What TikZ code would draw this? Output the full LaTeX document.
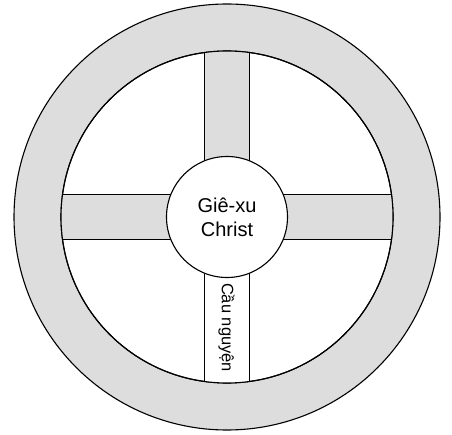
\documentclass[tikz,border=0pt]{standalone}
\usepackage{fontspec}
\setmainfont{Liberation Sans}
\definecolor{rimgray}{HTML}{DDDDDD}
\tikzset{
  ln/.style={draw=black, line width=1.1pt},
  ringshape/.style={circle, ln, inner sep=0pt},
  spokebar/.style={ln},
}
\begin{document}
\begin{tikzpicture}[x=1pt,y=1pt]
\useasboundingbox (0,0) rectangle (452,434);
\coordinate (c) at (227,217);
\node[ringshape, fill=rimgray, minimum size=426pt] (outer) at (c) {};
\node[ringshape, fill=white, minimum size=332pt] (inner) at (c) {};
\begin{scope}
  \clip (c) circle (166);
  \draw[spokebar, fill=rimgray] (204.5,217) rectangle (249.5,440);
  \draw[spokebar, fill=rimgray] (-10,194.5) rectangle (227,239.5);
  \draw[spokebar, fill=rimgray] (227,194.5) rectangle (460,239.5);
  \draw[spokebar, fill=white] (204.5,217) rectangle (249.5,-10);
\end{scope}
\draw[ln] (c) circle (166);
\node[ringshape, fill=white, minimum size=121pt, align=center,
      font=\fontsize{20}{24}\selectfont] (hub) at (c) {Giê-xu\\Christ};
\node[rotate=-90, inner sep=0pt, font=\fontsize{16.5}{18}\selectfont] (prayer) at (226.5,106.5) {Cầu nguyện};
\end{tikzpicture}
\end{document}
